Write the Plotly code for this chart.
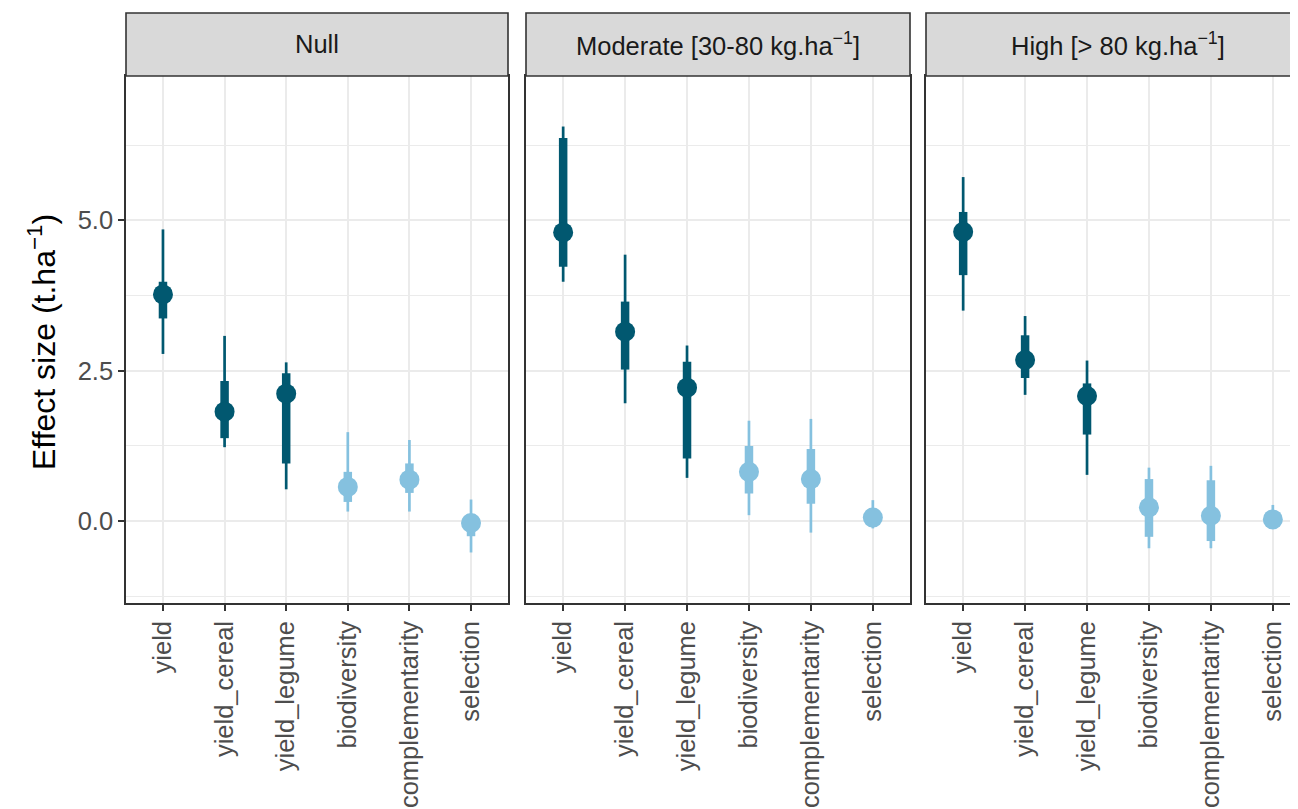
import plotly.graph_objects as go

W, H = 1298, 809
OFF = 8  # page body margin of the html page

categories = ["yield", "yield_cereal", "yield_legume", "biodiversity", "complementarity", "selection"]
panels = ["Null", "Moderate [30-80 kg.ha<sup>−1</sup>]", "High [> 80 kg.ha<sup>−1</sup>]"]

# group of each category: "dark" for yields, "light" for partition components
groups = ["dark", "dark", "dark", "light", "light", "light"]

# per panel: point estimate, thick interval (lo, hi), thin interval (lo, hi)
null_point = [3.77, 1.82, 2.12, 0.57, 0.69, -0.03]
null_thick_lo = [3.37, 1.38, 0.96, 0.32, 0.47, -0.25]
null_thick_hi = [3.98, 2.33, 2.46, 0.82, 0.96, 0.12]
null_thin_lo = [2.78, 1.23, 0.53, 0.16, 0.16, -0.52]
null_thin_hi = [4.85, 3.08, 2.64, 1.48, 1.35, 0.36]

mod_point = [4.80, 3.15, 2.22, 0.82, 0.70, 0.06]
mod_thick_lo = [4.23, 2.52, 1.04, 0.46, 0.29, -0.05]
mod_thick_hi = [6.37, 3.65, 2.65, 1.25, 1.20, 0.15]
mod_thin_lo = [3.98, 1.96, 0.72, 0.10, -0.19, -0.12]
mod_thin_hi = [6.56, 4.43, 2.92, 1.67, 1.70, 0.35]

high_point = [4.81, 2.68, 2.08, 0.23, 0.09, 0.03]
high_thick_lo = [4.09, 2.38, 1.44, -0.26, -0.33, -0.03]
high_thick_hi = [5.14, 3.09, 2.29, 0.70, 0.68, 0.12]
high_thin_lo = [3.50, 2.10, 0.77, -0.45, -0.45, -0.05]
high_thin_hi = [5.72, 3.41, 2.67, 0.89, 0.92, 0.27]

panel_data = [
    (null_point, null_thick_lo, null_thick_hi, null_thin_lo, null_thin_hi),
    (mod_point, mod_thick_lo, mod_thick_hi, mod_thin_lo, mod_thin_hi),
    (high_point, high_thick_lo, high_thick_hi, high_thin_lo, high_thin_hi),
]

y_ticks = [0.0, 2.5, 5.0]

colors = {"dark": "rgb(1,88,112)", "light": "rgb(133,193,223)"}

# layout geometry (target page pixels)
px_domains = [(126, 508), (526, 910), (926, 1310)]
plot_top, plot_bottom = 76, 603
strip_top = 13
y_range = [-1.36, 7.40]

def fx(px):
    return (px - OFF) / W

def fy(py):
    return 1 - (py - OFF) / H

fig = go.Figure()

def seg(lo, hi, idx):
    xs, ys = [], []
    for i in idx:
        xs += [categories[i], categories[i], None]
        ys += [lo[i], hi[i], None]
    return xs, ys

for p, (pt, tlo, thi, nlo, nhi) in enumerate(panel_data):
    xa = "x" if p == 0 else f"x{p+1}"
    ya = "y" if p == 0 else f"y{p+1}"
    for g in ["dark", "light"]:
        idx = [i for i in range(len(categories)) if groups[i] == g]
        xs, ys = seg(nlo, nhi, idx)
        fig.add_trace(go.Scatter(x=xs, y=ys, mode="lines", xaxis=xa, yaxis=ya,
                                 line=dict(color=colors[g], width=2.7), showlegend=False, hoverinfo="skip"))
        xs, ys = seg(tlo, thi, idx)
        fig.add_trace(go.Scatter(x=xs, y=ys, mode="lines", xaxis=xa, yaxis=ya,
                                 line=dict(color=colors[g], width=8.5), showlegend=False, hoverinfo="skip"))
        fig.add_trace(go.Scatter(x=[categories[i] for i in idx], y=[pt[i] for i in idx], mode="markers",
                                 xaxis=xa, yaxis=ya, marker=dict(color=colors[g], size=20, line=dict(width=0)),
                                 showlegend=False))

ydom = [fy(plot_bottom), fy(plot_top)]
layout = dict(width=W, height=H, margin=dict(l=0, r=0, t=0, b=0),
              paper_bgcolor="white", plot_bgcolor="white", showlegend=False,
              font=dict(family="Liberation Sans, Arial, sans-serif"))

TXT = 25.5
GRID = "#EBEBEB"
BORDER = "#333333"
shapes, annotations = [], []
for p in range(3):
    x0, x1 = px_domains[p]
    dom = [fx(x0), min(fx(x1), 1.0)]
    width_px = dom[1] * W - (x0 - OFF)
    rng = [-0.6, -0.6 + 6.2 * width_px / (x1 - x0)]
    key = "xaxis" if p == 0 else f"xaxis{p+1}"
    ykey = "yaxis" if p == 0 else f"yaxis{p+1}"
    layout[key] = dict(domain=dom, anchor="y" if p == 0 else f"y{p+1}",
                       type="category", categoryorder="array", categoryarray=categories,
                       range=rng, showgrid=True, gridcolor=GRID, gridwidth=2,
                       showline=True, mirror=True, linecolor=BORDER, linewidth=1.6,
                       ticks="outside", ticklen=6, tickwidth=1.6, tickcolor=BORDER,
                       tickangle=-90, tickfont=dict(size=TXT, color="#4D4D4D"), zeroline=False)
    layout[ykey] = dict(domain=ydom, anchor="x" if p == 0 else f"x{p+1}", range=y_range,
                        tickvals=y_ticks, ticktext=[f"{v:.1f}" for v in y_ticks],
                        showgrid=True, gridcolor=GRID, gridwidth=2, zeroline=False,
                        minor=dict(tick0=1.25, dtick=2.5, showgrid=True, gridcolor=GRID, gridwidth=1),
                        showline=True, mirror=(p < 2), linecolor=BORDER, linewidth=1.6,
                        ticks="outside" if p == 0 else "", ticklen=6, tickwidth=1.6, tickcolor=BORDER,
                        showticklabels=(p == 0), tickfont=dict(size=TXT, color="#4D4D4D"))
    # strip
    shapes.append(dict(type="rect", xref="paper", yref="paper",
                       x0=fx(x0), x1=fx(x1), y0=fy(plot_top), y1=fy(strip_top),
                       fillcolor="#D9D9D9", line=dict(color=BORDER, width=1.6), layer="above"))
    cx = (x0 + x1) / 2
    annotations.append(dict(text=panels[p], xref="paper", yref="paper", x=fx(cx),
                            y=fy((strip_top + plot_top) / 2), showarrow=False,
                            font=dict(size=TXT, color="#1A1A1A"), xanchor="center", yanchor="middle"))

annotations.append(dict(text="Effect size (t.ha<sup>−1</sup>)", xref="paper", yref="paper",
                        x=fx(42), y=fy(342), showarrow=False, textangle=-90,
                        font=dict(size=32, color="black"), xanchor="center", yanchor="middle"))

layout["shapes"] = shapes
layout["annotations"] = annotations
fig.update_layout(**layout)
fig.write_html("out.html")
